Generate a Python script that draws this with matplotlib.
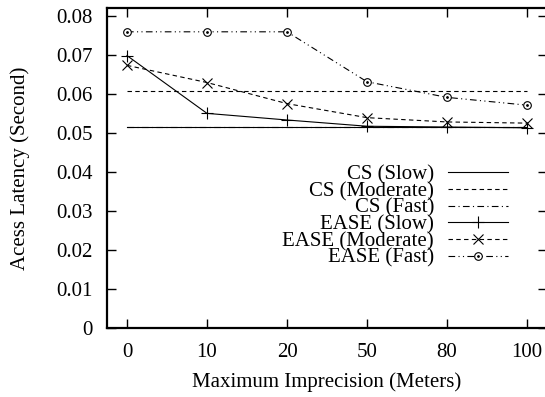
import numpy as np
import matplotlib
matplotlib.use("Agg")
import matplotlib.pyplot as plt

plt.rcParams['font.family'] = ['Liberation Serif', 'DejaVu Serif']
plt.rcParams['font.size'] = 15

# datos
x_labels = ['0', '10', '20', '50', '80', '100']
cs_slow = [0.0515, 0.0515, 0.0515, 0.0515, 0.0515, 0.0515]
cs_moderate = [0.0607, 0.0607, 0.0607, 0.0607, 0.0607, 0.0607]
cs_fast = [0.0514, 0.0514, 0.0514, 0.0514, 0.0514, 0.0514]
ease_slow = [0.0698, 0.0550, 0.0533, 0.0517, 0.0515, 0.0513]
ease_moderate = [0.0673, 0.0629, 0.0575, 0.0539, 0.0528, 0.0525]
ease_fast = [0.0759, 0.0759, 0.0759, 0.0631, 0.0591, 0.0571]

x = np.arange(len(x_labels))

fig = plt.figure(figsize=(5.45, 3.97), dpi=100)
ax = fig.add_axes([107/545, (397-328)/397, (547-107)/545, (328-8)/397])

lw = 0.8
dashdot = (0, (6, 3, 1, 3))
dashdotdot = (0, (6, 3, 1, 3, 1, 3))

l1, = ax.plot(x, cs_slow, color='black', lw=lw, label='CS (Slow)')
l2, = ax.plot(x, cs_moderate, color='black', lw=lw, ls=(0, (4, 3)), label='CS (Moderate)')
l3, = ax.plot(x, cs_fast, color='black', lw=lw, ls=dashdot, label='CS (Fast)')
l4, = ax.plot(x, ease_slow, color='black', lw=lw, marker='+', ms=8, mew=0.8,
              label='EASE (Slow)')
l5, = ax.plot(x, ease_moderate, color='black', lw=lw, ls=(0, (4, 3)), marker='x',
              ms=6.5, mew=0.8, label='EASE (Moderate)')
l6, = ax.plot(x, ease_fast, color='black', lw=lw, ls=dashdotdot, marker='o', ms=5.5,
              mfc='white', mew=0.8, label='EASE (Fast)')
d6, = ax.plot(x, ease_fast, ls='none', marker='o', ms=1, color='black')

ax.set_xlim(-0.25, 5.25)
ax.set_ylim(0, 0.082)
ax.set_xticks(x)
ax.set_xticklabels(x_labels)
ax.set_yticks(np.arange(0, 0.081, 0.01))
ax.set_yticklabels(['0'] + ['%.2f' % v for v in np.arange(0.01, 0.081, 0.01)])
ax.tick_params(axis='y', direction='in', length=6.5, width=1, pad=10,
               left=True, right=True)
ax.tick_params(axis='x', direction='in', length=6.5, width=1, pad=11,
               bottom=True, top=True)
for s in ax.spines.values():
    s.set_linewidth(1.6)

ax.set_xlabel('Maximum Imprecision (Meters)', labelpad=7)
ax.set_ylabel('Acess Latency (Second)', labelpad=19)

ax.legend([l1, l2, l3, l4, l5, (l6, d6)],
          ['CS (Slow)', 'CS (Moderate)', 'CS (Fast)', 'EASE (Slow)',
           'EASE (Moderate)', 'EASE (Fast)'],
          loc='upper right', bbox_to_anchor=(508/545, (397-165)/397),
          bbox_transform=fig.transFigure, markerfirst=False, frameon=False,
          handlelength=2.9, handletextpad=0.65, labelspacing=-0.14,
          borderpad=0, borderaxespad=0)

fig.savefig('out.png', dpi=100)
